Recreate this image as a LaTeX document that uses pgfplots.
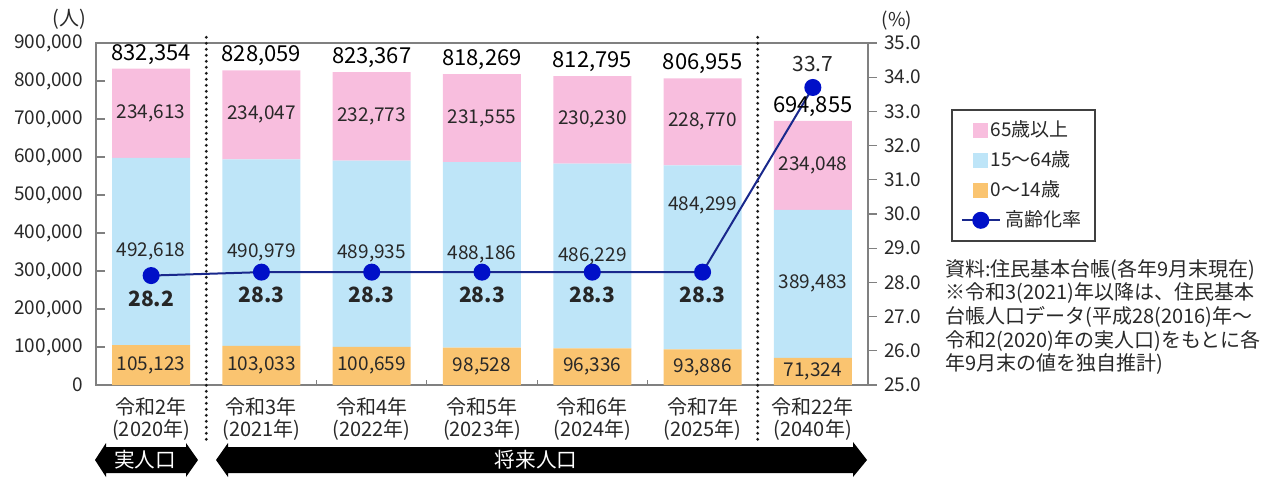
\documentclass[border=0pt]{standalone}
\usepackage{fontspec}
\setmainfont{Noto Sans CJK JP}
\usepackage{pgfplots}
\pgfplotsset{compat=1.18}
\definecolor{pinkc}{RGB}{248,190,222}
\definecolor{bluec}{RGB}{190,229,248}
\definecolor{orangec}{RGB}{250,196,112}
\definecolor{navyc}{RGB}{25,40,140}
\definecolor{dotblue}{RGB}{0,16,200}
\definecolor{txt}{RGB}{40,40,40}
\pgfplotsset{
  sqlegend/.style={legend image code/.code={\path[draw=none, ##1, draw=none] (5.5pt,-3.75pt) rectangle (13pt,3.75pt); \path[draw=none, fill=none] (0pt,0pt) -- (13pt,0pt);}},
  linelegend/.style={legend image code/.code={\path[draw=none, fill=none] (0pt,-3.75pt) rectangle (13pt,3.75pt); \draw[overlay, ##1, mark repeat=2, mark phase=2] plot coordinates {(0pt,0pt) (9.5pt,0pt) (19pt,0pt)};}},
}
% labels are placed in the right-hand axis (25..35), so people counts v map to 25+v/90000
\newcommand{\vlab}[3]{\node[font=\fontsize{9.5}{11}\selectfont, text=txt, inner sep=0pt] at (axis cs:#1,{25+#2/90000}) {#3};}
\newcommand{\tlab}[3]{\node[font=\fontsize{11}{12}\selectfont, text=black, anchor=south, inner sep=1pt, yshift=1pt] at (axis cs:#1,{25+#2/90000}) {#3};}
\newcommand{\rlab}[2]{\node[font=\fontsize{10.5}{12}\selectfont\bfseries, text=black!85, anchor=north, inner sep=0pt, yshift=-7.3pt] at (axis cs:#1,#2) {#2};}
\begin{document}
\begin{tikzpicture}
\begin{scope}[x=0.5pt,y=-0.5pt,shift={(0pt,239pt)}]
\path[use as bounding box] (0,0) rectangle (1276,478);
\end{scope}

\begin{axis}[
  at={(48pt,46.5pt)}, anchor=south west,
  scale only axis, width=386pt, height=171pt,
  xmin=-0.5, xmax=6.5, ymin=0, ymax=900000,
  ybar stacked, bar width=39pt,
  clip=false,
  axis line style={draw=black!50, line width=0.6pt},
  xtick={0,...,6},
  xticklabels={{令和2年\\(2020年)},{令和3年\\(2021年)},{令和4年\\(2022年)},{令和5年\\(2023年)},{令和6年\\(2024年)},{令和7年\\(2025年)},{令和22年\\(2040年)}},
  x tick style={draw=none},
  x tick label style={align=center, font=\fontsize{10}{11}\selectfont, text=txt, yshift=-3pt},
  ytick={0,100000,...,900000},
  ytick pos=left,
  tick align=inside,
  major tick length=4.5pt,
  y tick style={draw=black!50, line width=0.6pt},
  scaled y ticks=false,
  yticklabels={0,{100,000},{200,000},{300,000},{400,000},{500,000},{600,000},{700,000},{800,000},{900,000}},
  y tick label style={font=\fontsize{9.5}{11}\selectfont, text=txt, xshift=-3pt},
]
\addplot[fill=orangec, draw=none] coordinates {(0,105123) (1,103033) (2,100659) (3,98528) (4,96336) (5,93886) (6,71324)};
\addplot[fill=bluec, draw=none] coordinates {(0,492618) (1,490979) (2,489935) (3,488186) (4,486229) (5,484299) (6,389483)};
\addplot[fill=pinkc, draw=none] coordinates {(0,234613) (1,234047) (2,232773) (3,231555) (4,230230) (5,228770) (6,234048)};

\draw[black!50, line width=0.6pt] (axis cs:1.5,0) -- ++(0pt,2.5pt);
\draw[black!50, line width=0.6pt] (axis cs:2.5,0) -- ++(0pt,2.5pt);
\draw[black!50, line width=0.6pt] (axis cs:3.5,0) -- ++(0pt,2.5pt);
\draw[black!50, line width=0.6pt] (axis cs:4.5,0) -- ++(0pt,2.5pt);

\draw[black!90, line width=1.6pt, dash pattern=on 0pt off 3pt, line cap=round] (axis cs:0.5,915000) -- (axis cs:0.5,-148000);
\draw[black!90, line width=1.6pt, dash pattern=on 0pt off 3pt, line cap=round] (axis cs:5.5,915000) -- (axis cs:5.5,-148000);
\end{axis}

\begin{axis}[
  at={(48pt,46.5pt)}, anchor=south west,
  scale only axis, width=386pt, height=171pt,
  xmin=-0.5, xmax=6.5, ymin=25, ymax=35,
  axis y line*=right, axis x line=none,
  clip=false,
  axis line style={draw=black!50, line width=0.6pt},
  ytick={25,26,...,35},
  yticklabels={25.0,26.0,27.0,28.0,29.0,30.0,31.0,32.0,33.0,34.0,35.0},
  tick align=outside,
  major tick length=4.5pt,
  y tick style={draw=black!50, line width=0.6pt},
  y tick label style={font=\fontsize{9.5}{11}\selectfont, text=txt},
  legend cell align=left,
  legend style={at={(1.1075,0.807)}, anchor=north west, draw=black!75, line width=0.8pt,
    inner xsep=5pt, inner ysep=4pt, row sep=2.5pt,
    font=\fontsize{9.5}{11}\selectfont, text=txt,
    nodes={inner sep=1.5pt, text height=8pt, text depth=1.5pt}},
]
\addlegendimage{sqlegend, fill=pinkc}
\addlegendentry{65歳以上}
\addlegendimage{sqlegend, fill=bluec}
\addlegendentry{15～64歳}
\addlegendimage{sqlegend, fill=orangec}
\addlegendentry{0～14歳}
\addplot[linelegend, color=navyc, line width=1pt, mark=*, mark size=3.75pt, mark options={fill=dotblue, draw=dotblue}]
  coordinates {(0,28.2) (1,28.3) (2,28.3) (3,28.3) (4,28.3) (5,28.3) (6,33.7)};
\addlegendentry{\hspace*{7.5pt}高齢化率}

\vlab{0}{52561}{105,123}\vlab{1}{51516}{103,033}\vlab{2}{50330}{100,659}\vlab{3}{49264}{98,528}\vlab{4}{48168}{96,336}\vlab{5}{46943}{93,886}\vlab{6}{35662}{71,324}
\vlab{0}{351432}{492,618}\vlab{1}{348522}{490,979}\vlab{2}{345626}{489,935}\vlab{3}{342621}{488,186}\vlab{4}{339450}{486,229}\vlab{5}{472000}{484,299}\vlab{6}{266065}{389,483}
\vlab{0}{715047}{234,613}\vlab{1}{711035}{234,047}\vlab{2}{706980}{232,773}\vlab{3}{702491}{231,555}\vlab{4}{697680}{230,230}\vlab{5}{692570}{228,770}\vlab{6}{577831}{234,048}
\tlab{0}{832354}{832,354}\tlab{1}{828059}{828,059}\tlab{2}{823367}{823,367}\tlab{3}{818269}{818,269}\tlab{4}{812795}{812,795}\tlab{5}{806955}{806,955}\tlab{6}{694855}{694,855}

\rlab{0}{28.2}\rlab{1}{28.3}\rlab{2}{28.3}\rlab{3}{28.3}\rlab{4}{28.3}\rlab{5}{28.3}
\node[font=\fontsize{10.5}{12}\selectfont, text=black!85, anchor=south, inner sep=0pt, yshift=7.6pt] at (axis cs:6,33.7) {33.7};
\end{axis}

\begin{scope}[x=0.5pt,y=-0.5pt,shift={(0pt,239pt)}]
\node[font=\fontsize{10}{11}\selectfont, text=txt] at (69,19) {(人)};
\node[font=\fontsize{9.5}{11}\selectfont, text=txt] at (897,21) {(\%)};
\fill[black] (95,460) -- (106,443) -- (106,447) -- (186,447) -- (186,443) -- (198,460) -- (186,477) -- (186,473) -- (106,473) -- (106,477) -- cycle;
\node[font=\fontsize{10.3}{12}\selectfont, text=white] at (145,460) {実人口};
\fill[black] (216,460) -- (228,443) -- (228,447) -- (853,447) -- (853,442) -- (867,460) -- (853,477) -- (853,473) -- (228,473) -- (228,477) -- cycle;
\node[font=\fontsize{10.3}{12}\selectfont, text=white] at (536,460) {将来人口};
\node[font=\fontsize{10}{11.8}\selectfont, text=txt, align=left, anchor=north west, inner sep=0pt] at (945,259) {資料:住民基本台帳(各年9月末現在)\\※令和3(2021)年以降は、住民基本\\台帳人口データ(平成28(2016)年～\\令和2(2020)年の実人口)をもとに各\\年9月末の値を独自推計)};
\end{scope}
\end{tikzpicture}
\end{document}
